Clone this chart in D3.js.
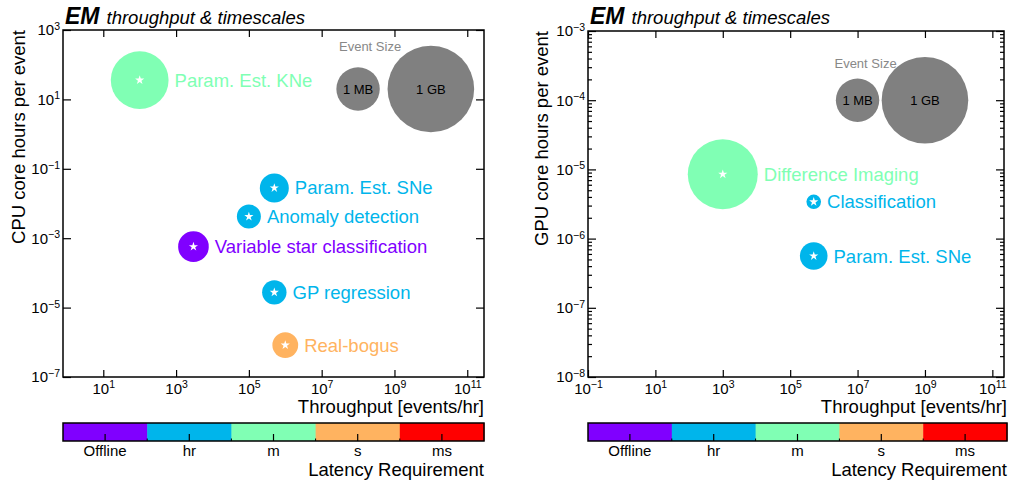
<!DOCTYPE html>
<html>
<head>
<meta charset="utf-8">
<script src="https://cdn.jsdelivr.net/npm/d3@7"></script>
<style>
  body { margin: 0; background: #fff; }
  text { font-family: "Liberation Sans", Arial, Helvetica, sans-serif; }
</style>
</head>
<body>
<svg id="chart" width="1009" height="480"></svg>
<script>
// CPU tasks (left panel)
const cpuTasks = ["Param. Est. KNe", "Param. Est. SNe", "Anomaly detection",
  "Variable star classification", "GP regression", "Real-bogus"];
const cpuThroughput = [1e2, 5e5, 1e5, 3e3, 5e5, 1e6];          // events/hr
const cpuHours = [36, 0.028, 4.2e-3, 5.7e-4, 2.75e-5, 8.3e-7];  // core hours per event
const cpuLatency = ["m", "hr", "hr", "Offline", "hr", "s"];
const cpuEventSize = [1e7, 1e5, 4.5e4, 1.3e5, 4.8e4, 6e4];     // bytes

// GPU tasks (right panel)
const gpuTasks = ["Difference Imaging", "Classification", "Param. Est. SNe"];
const gpuThroughput = [1e3, 5e5, 5e5];
const gpuHours = [8.5e-6, 3.4e-6, 5.6e-7];
const gpuLatency = ["m", "hr", "hr"];
const gpuEventSize = [7e7, 1e4, 8e4];

// latency colour bins
const latencyLevels = ["Offline", "hr", "m", "s", "ms"];
const latencyColors = ["#8000ff", "#00b5eb", "#80ffb4", "#ffb360", "#ff0000"];

// event size legend
const sizeLabels = ["1 MB", "1 GB"];
const sizeBytes = [1e6, 1e9];

// tick values
const cpuXTicks = [1e1, 1e3, 1e5, 1e7, 1e9, 1e11];
const cpuYTicks = [1e-7, 1e-5, 1e-3, 1e-1, 1e1, 1e3];
const gpuXTicks = [1e-1, 1e1, 1e3, 1e5, 1e7, 1e9, 1e11];
const gpuYTicks = [1e-8, 1e-7, 1e-6, 1e-5, 1e-4, 1e-3];

const svg = d3.select("#chart");
const color = d3.scaleOrdinal().domain(latencyLevels).range(latencyColors);
const radius = d3.scaleLog().domain([1e6, 1e9]).range([21.7, 43.3]);
const star = d3.symbol().type(d3.symbolStar).size(26);

// turn 1e-5 style ticks into 10 with a superscript
function powerLabels(sel) {
  sel.selectAll(".tick text").each(function (d) {
    const t = d3.select(this);
    const e = Math.round(Math.log10(d));
    t.text("");
    t.append("tspan").text("10");
    t.append("tspan").attr("dy", "-0.5em").attr("font-size", "10.5px")
      .text(String(e).replace("-", "\u2212"));
  });
}

function styleAxis(sel) {
  sel.select(".domain").remove();
  sel.selectAll(".tick line").attr("stroke", "#000").attr("stroke-width", 1.2);
  sel.selectAll(".tick text").attr("fill", "#000").attr("font-size", "15px")
    .attr("font-family", "Liberation Sans, Arial, sans-serif");
}

function drawPanel(p) {
  const x = d3.scaleLog().domain(p.xDomain).range([p.left, p.right]);
  const y = d3.scaleLog().domain(p.yDomain).range([p.bottom, p.top]);
  const g = svg.append("g");

  // axes: labelled bottom/left, tick-only top/right, ticks pointing inward
  g.append("g").attr("transform", "translate(0," + p.bottom + ")")
    .call(d3.axisBottom(x).tickValues(p.xTicks).tickSize(-7).tickPadding(6))
    .call(styleAxis).call(powerLabels);
  g.append("g").attr("transform", "translate(0," + p.top + ")")
    .call(d3.axisTop(x).tickValues(p.xTicks).tickSize(-7).tickFormat(""))
    .call(styleAxis);
  g.append("g").attr("transform", "translate(" + p.left + ",0)")
    .call(d3.axisLeft(y).tickValues(p.yTicks).tickSize(-8).tickPadding(3))
    .call(styleAxis).call(powerLabels);
  g.append("g").attr("transform", "translate(" + p.right + ",0)")
    .call(d3.axisRight(y).tickValues(p.yTicks).tickSize(-8).tickFormat(""))
    .call(styleAxis);

  if (p.yMinor) {
    const minor = y.ticks().filter(v => Math.abs(Math.log10(v) - Math.round(Math.log10(v))) > 1e-6);
    g.append("g").attr("transform", "translate(" + p.left + ",0)")
      .call(d3.axisLeft(y).tickValues(minor).tickSize(-4).tickFormat(""))
      .call(styleAxis);
    g.append("g").attr("transform", "translate(" + p.right + ",0)")
      .call(d3.axisRight(y).tickValues(minor).tickSize(-4).tickFormat(""))
      .call(styleAxis);
  }

  g.append("rect")
    .attr("x", p.left).attr("y", p.top)
    .attr("width", p.right - p.left).attr("height", p.bottom - p.top)
    .attr("fill", "none").attr("stroke", "#000").attr("stroke-width", 1.5);

  // event size legend
  const legendCx = sizeBytes.map((b, i) => x(p.legendX[i]));
  g.selectAll(".legend").data(sizeBytes).join("circle")
    .attr("cx", (d, i) => legendCx[i]).attr("cy", y(p.legendY))
    .attr("r", d => radius(d)).attr("fill", "#808080");
  g.selectAll(".legendText").data(sizeLabels).join("text")
    .attr("x", (d, i) => legendCx[i]).attr("y", y(p.legendY)).attr("dy", "0.35em")
    .attr("text-anchor", "middle").attr("font-size", "13px").attr("fill", "#000")
    .text(d => d);
  g.append("text")
    .attr("x", legendCx[0] + p.legendTextDx)
    .attr("y", y(p.legendY) - radius(sizeBytes[0]) - p.legendTextDy)
    .attr("text-anchor", "middle").attr("font-size", "13px").attr("fill", "#888")
    .text("Event Size");

  // task bubbles
  const data = p.tasks.map((t, i) => ({
    name: t, tp: p.throughput[i], h: p.hours[i], lat: p.latency[i], size: p.eventSize[i]
  }));
  const b = g.selectAll(".bubble").data(data).join("g")
    .attr("transform", d => "translate(" + x(d.tp) + "," + y(d.h) + ")");
  b.append("circle").attr("r", d => radius(d.size)).attr("fill", d => color(d.lat));
  b.append("path").attr("d", star).attr("fill", "#fff");
  b.append("text")
    .attr("x", d => radius(d.size) + 6).attr("dy", "0.35em")
    .attr("font-size", "18.5px").attr("fill", d => color(d.lat))
    .text(d => d.name);

  // title
  const title = g.append("text").attr("x", p.left + 2).attr("y", 24);
  title.append("tspan").attr("font-size", "23px").attr("font-weight", "bold")
    .attr("font-style", "italic").text("EM");
  title.append("tspan").attr("dx", 7).attr("font-size", "18.5px")
    .attr("font-style", "italic").text("throughput & timescales");

  // axis titles (y title sits at the top of the axis, x title at the right)
  g.append("text")
    .attr("transform", "translate(" + p.yLabelX + "," + p.top + ") rotate(-90)")
    .attr("text-anchor", "end").attr("font-size", "18.5px").text(p.yLabel);
  g.append("text").attr("x", p.cbRight).attr("y", 413)
    .attr("text-anchor", "end").attr("font-size", "18.5px").text("Throughput [events/hr]");

  // latency colour bar
  const cb = d3.scaleBand().domain(latencyLevels).range([p.left, p.cbRight]);
  const cbTop = 423, cbBottom = 441;
  g.selectAll(".cbseg").data(latencyLevels).join("rect")
    .attr("x", d => cb(d)).attr("y", cbTop)
    .attr("width", cb.bandwidth() + 0.5).attr("height", cbBottom - cbTop)
    .attr("fill", d => color(d));
  g.selectAll(".cbtick").data(latencyLevels).join("line")
    .attr("x1", d => cb(d) + cb.bandwidth() / 2).attr("x2", d => cb(d) + cb.bandwidth() / 2)
    .attr("y1", cbBottom).attr("y2", cbBottom - 7)
    .attr("stroke", "#000").attr("stroke-width", 1.2);
  g.selectAll(".cbedge").data(latencyLevels.slice(1)).join("line")
    .attr("x1", d => cb(d)).attr("x2", d => cb(d))
    .attr("y1", cbBottom).attr("y2", cbBottom - 2.5)
    .attr("stroke", "#000").attr("stroke-width", 1);
  g.append("rect").attr("x", p.left).attr("y", cbTop)
    .attr("width", p.cbRight - p.left).attr("height", cbBottom - cbTop)
    .attr("fill", "none").attr("stroke", "#000").attr("stroke-width", 1.5);
  g.selectAll(".cblabel").data(latencyLevels).join("text")
    .attr("x", d => cb(d) + cb.bandwidth() / 2).attr("y", 456)
    .attr("text-anchor", "middle").attr("font-size", "15px").text(d => d);
  g.append("text").attr("x", p.cbRight).attr("y", 476)
    .attr("text-anchor", "end").attr("font-size", "18.5px").text("Latency Requirement");
}

drawPanel({
  left: 63, right: 484, top: 30, bottom: 377, cbRight: 484, yLabelX: 25,
  xDomain: [Math.pow(10, -0.107), Math.pow(10, 11.46)], yDomain: [1e-7, 1e3],
  xTicks: cpuXTicks, yTicks: cpuYTicks, yMinor: false,
  yLabel: "CPU core hours per event",
  legendX: [1e8, 1e10], legendY: 20, legendTextDx: 12, legendTextDy: 16.5,
  tasks: cpuTasks, throughput: cpuThroughput, hours: cpuHours,
  latency: cpuLatency, eventSize: cpuEventSize
});

drawPanel({
  left: 588, right: 1004, top: 31, bottom: 377, cbRight: 1007, yLabelX: 548,
  xDomain: [1e-1, Math.pow(10, 11.346)], yDomain: [1e-8, 1e-3],
  xTicks: gpuXTicks, yTicks: gpuYTicks, yMinor: true,
  yLabel: "GPU core hours per event",
  legendX: [1e7, 1e9], legendY: 1e-4, legendTextDx: 8, legendTextDy: 10.5,
  tasks: gpuTasks, throughput: gpuThroughput, hours: gpuHours,
  latency: gpuLatency, eventSize: gpuEventSize
});
</script>
</body>
</html>
